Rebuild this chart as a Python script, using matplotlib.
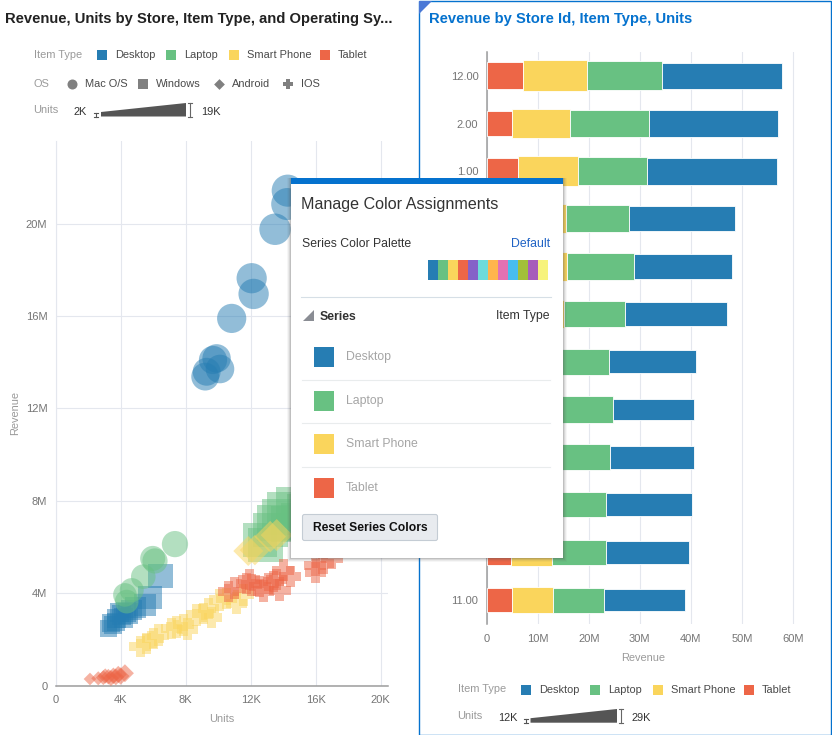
"""
Two linked dashboard charts (units vs revenue scatter, stacked revenue bars)
with the colour assignment popup sitting on top of them.
"""
import matplotlib
matplotlib.use("Agg")
import matplotlib.pyplot as plt
import numpy as np
from matplotlib.patches import FancyBboxPatch, Polygon, Rectangle
from matplotlib.path import Path

plt.rcParams["font.family"] = ["Liberation Sans", "DejaVu Sans"]

W, H = 832, 735

ITEM_TYPES = ["Desktop", "Laptop", "Smart Phone", "Tablet"]
ITEM_COLORS = ["#267db3", "#68c182", "#fad55c", "#ed6647"]
PALETTE = ["#267db3", "#68c182", "#fad55c", "#ed6647", "#8561c8", "#6ddbdb", "#ffb54d",
           "#e371b2", "#47bdef", "#a2bf39", "#a75dba", "#f7f37b"]

# scatter, units in K and revenue in M
desktop_mac_x = [14.28, 14.25, 13.5, 12.06, 12.18, 10.83, 9.9, 10.11, 9.68, 9.29, 9.2]
desktop_mac_y = [21.43, 20.85, 19.76, 17.64, 16.96, 15.9, 14.17, 13.71, 14.1, 13.59, 13.38]
desktop_win_x = [6.44, 5.8, 3.24, 3.4, 3.55, 3.75, 3.7, 4.06, 4.16, 4.3, 4.47, 4.67, 4.9, 5.5, 3.9]
desktop_win_y = [4.74, 3.81, 2.48, 2.7, 2.63, 2.92, 2.75, 3.06, 2.92, 3.2, 3.13, 3.28, 3.4, 3.5, 3.15]
laptop_mac_x = [7.34, 5.97, 6.11, 5.39, 4.68, 4.26, 4.37]
laptop_mac_y = [6.13, 5.51, 5.4, 4.72, 4.14, 3.93, 3.64]
laptop_win_x = [12.57, 12.9, 13.2, 13.5, 13.8, 14.1, 14.7, 14.4, 15.0, 15.4]
laptop_win_y = [6.3, 6.1, 6.74, 7.04, 7.3, 7.6, 7.8, 7.0, 7.1, 7.5]
phone_android_x = [11.85, 12.26, 13.2, 13.6]
phone_android_y = [5.83, 5.87, 6.45, 6.52]
phone_ios_x = [5.19, 5.6, 6.0, 6.31, 7.14, 7.45, 7.85, 8.1, 8.68, 9.08, 9.39, 9.6, 10.11, 10.52, 11.14, 11.55]
phone_ios_y = [1.69, 1.83, 2.05, 2.19, 2.48, 2.55, 2.63, 2.45, 3.06, 3.13, 3.35, 2.95, 3.71, 3.78, 3.57, 3.93]
tablet_android_x = [2.11, 2.62, 2.93, 3.05, 3.24, 3.4, 3.55, 3.7, 3.85, 4.0, 4.26]
tablet_android_y = [0.29, 0.32, 0.35, 0.42, 0.39, 0.33, 0.43, 0.38, 0.49, 0.42, 0.54]
tablet_ios_x = [11.03, 10.62, 11.75, 11.9, 12.06, 12.57, 12.8, 13.08, 13.39, 13.8, 14.42, 15.96, 16.45, 13.6, 14.0, 16.0, 17.0]
tablet_ios_y = [4.22, 4.07, 4.43, 4.6, 4.36, 4.29, 4.1, 4.43, 4.5, 4.14, 4.72, 5.22, 5.31, 4.6, 5.0, 4.9, 5.5]

# stacked bars, top row first, revenue in M and units in K
store_ids = ["12.00", "2.00", "1.00", "8.00", "3.00", "7.00", "6.00", "10.00", "9.00", "5.00", "4.00", "11.00"]
tablet_rev = [7.2, 5.0, 6.1, 5.5, 5.5, 5.2, 5.0, 5.0, 5.0, 5.0, 4.7, 5.0]
phone_rev = [12.4, 11.4, 11.7, 10.0, 10.25, 10.0, 8.5, 8.5, 8.5, 8.2, 8.05, 7.9]
laptop_rev = [14.8, 15.5, 13.7, 12.3, 13.2, 11.9, 10.5, 11.2, 10.75, 10.1, 10.55, 10.0]
desktop_rev = [23.4, 25.2, 25.4, 20.8, 19.15, 20.0, 17.0, 15.95, 16.35, 16.9, 16.4, 15.9]
tablet_units = [21.4, 15.8, 19.6, 17.7, 17.7, 15.8, 13.9, 13.9, 13.9, 13.9, 15.8, 15.8]
phone_units = [29, 27.1, 27.1, 25.2, 27.1, 23.3, 21.4, 21.4, 21.4, 21.4, 19.6, 19.6]
laptop_units = [25.2, 23.3, 23.3, 21.4, 23.3, 19.6, 19.6, 19.6, 19.6, 17.7, 17.7, 17.7]
desktop_units = [19.6, 21.4, 21.4, 17.7, 15.8, 15.8, 13.9, 12, 13.9, 13.9, 13.9, 12]

GRID = "#e4e7ee"
AXIS = "#9c9c9c"
TICK = "#757575"
LABEL = "#9a9a9a"
LEGEND = "#4a4a4a"
BLUE = "#0572ce"

# matplotlib's "P" has thinner arms than the plus in the reference
a, b = 0.21, 0.5
FAT_PLUS = Path([(-a, -b), (a, -b), (a, -a), (b, -a), (b, a), (a, a), (a, b), (-a, b),
                 (-a, a), (-b, a), (-b, -a), (-a, -a), (-a, -b)], closed=True)


def px_axes(fig, left, top, right, bottom, **kw):
    return fig.add_axes([left / W, 1 - bottom / H, (right - left) / W, (bottom - top) / H], **kw)


def bubble(units, marker):
    # width in px for each shape
    units = np.asarray(units)
    if marker == "o":
        width = 20 + 0.85 * units
    elif marker == "s":
        width = 9.6 * np.sqrt(units)
    elif marker == "D":
        width = 8.7 * np.sqrt(units) / np.sqrt(2)
    else:
        width = np.full(units.shape, 21.5)
    return (width * 0.72) ** 2


def style_axes(ax):
    ax.set_axisbelow(True)
    ax.grid(True, color=GRID, linewidth=0.8)
    ax.tick_params(length=0, labelsize=8, labelcolor=TICK)
    for side in ["top", "right"]:
        ax.spines[side].set_visible(False)


def legend_items(ov, y, swatches):
    for x0, color, name in swatches:
        ov.add_patch(Rectangle((x0, y - 5), 10, 10, color=color, lw=0))
        ov.text(x0 + 18, y, name, fontsize=7.9, color=LEGEND, va="center")


def units_wedge(ov, label_x, low, lo_x, x0, x1, top, bottom, high):
    ov.text(label_x, bottom - 5, low, fontsize=7.9, color="#333333", va="center")
    ov.plot([lo_x, lo_x], [bottom - 4, bottom], color="#555555", lw=0.8)
    ov.plot([lo_x - 2, lo_x + 2], [bottom - 4, bottom - 4], color="#555555", lw=0.8)
    ov.plot([lo_x - 2, lo_x + 2], [bottom, bottom], color="#555555", lw=0.8)
    ov.add_patch(Polygon([(x0, bottom), (x0, bottom - 4.5), (x1, top), (x1, bottom)], color="#555555", lw=0))
    ov.plot([x1 + 4, x1 + 4], [top, bottom], color="#666666", lw=0.8)
    ov.plot([x1 + 2, x1 + 6], [top, top], color="#666666", lw=0.8)
    ov.plot([x1 + 2, x1 + 6], [bottom, bottom], color="#666666", lw=0.8)
    ov.text(x1 + 15, bottom - 5, high, fontsize=7.9, color="#333333", va="center")


def draw_scatter(fig):
    ax = px_axes(fig, 55.7, 141, 388, 685.7)
    style_axes(ax)
    series = [
        (desktop_mac_x, desktop_mac_y, "o", 0), (desktop_win_x, desktop_win_y, "s", 0),
        (laptop_win_x, laptop_win_y, "s", 1), (laptop_mac_x, laptop_mac_y, "o", 1),
        (phone_ios_x, phone_ios_y, FAT_PLUS, 2), (tablet_ios_x, tablet_ios_y, FAT_PLUS, 3),
        (phone_android_x, phone_android_y, "D", 2), (tablet_android_x, tablet_android_y, "D", 3),
    ]
    for xs, ys, marker, item in series:
        ax.scatter(xs, ys, s=bubble(xs, marker), marker=marker, color=ITEM_COLORS[item],
                   alpha=0.5, linewidths=0, clip_on=False, zorder=3)
    ax.set_xlim(0, 20.45)
    ax.set_ylim(0, 23.58)
    ax.set_xticks(range(0, 21, 4), ["0"] + [f"{v}K" for v in range(4, 21, 4)])
    ax.set_yticks(range(0, 21, 4), ["0"] + [f"{v}M" for v in range(4, 21, 4)])
    ax.tick_params(axis="x", pad=6.5)
    ax.tick_params(axis="y", pad=6)
    ax.spines["left"].set_color(GRID)
    ax.spines["bottom"].set_color(AXIS)
    ax.spines["bottom"].set_linewidth(1.1)
    ax.set_xlabel("Units", fontsize=7.9, color=LABEL, labelpad=7)
    ax.set_ylabel("Revenue", fontsize=7.9, color=LABEL, labelpad=4)


def draw_bars(fig):
    ax = px_axes(fig, 486.7, 52, 800, 624)
    style_axes(ax)
    ax.grid(False, axis="y")
    rows = np.arange(len(store_ids))
    left = np.zeros(len(store_ids))
    stack = [(tablet_rev, tablet_units, 3), (phone_rev, phone_units, 2),
             (laptop_rev, laptop_units, 1), (desktop_rev, desktop_units, 0)]
    for rev, units, item in stack:
        # 12K..29K maps onto a bar 22..31 px thick, one row is 47.67 px
        thick = (22 + (np.asarray(units) - 12) / 17 * 9) / 47.67
        ax.barh(rows, rev, left=left, height=thick, color=ITEM_COLORS[item],
                edgecolor="white", linewidth=0.6, zorder=3)
        left += np.asarray(rev)
    ax.set_xlim(0, 61.4)
    ax.set_ylim(len(store_ids) - 0.5, -0.5)
    ax.set_yticks(rows, store_ids)
    ax.set_xticks(range(0, 61, 10), ["0"] + [f"{v}M" for v in range(10, 61, 10)])
    ax.tick_params(axis="x", pad=7.5)
    ax.tick_params(axis="y", pad=6)
    ax.spines["left"].set_color(AXIS)
    ax.spines["left"].set_linewidth(1.1)
    ax.spines["bottom"].set_visible(False)
    ax.set_xlabel("Revenue", fontsize=7.9, color=LABEL, labelpad=6)


def draw_popup(ov):
    for i, alpha in enumerate([0.05, 0.08, 0.12, 0.18]):
        grow = 4 - i
        ov.add_patch(Rectangle((291 - grow, 178), 272 + 2 * grow, 379.5 + grow, color="#555555", alpha=alpha, lw=0))
    ov.add_patch(Rectangle((291, 178), 272, 379.5, color="white", lw=0))
    ov.add_patch(Rectangle((291, 178), 272, 6, color=BLUE, lw=0))
    ov.text(301, 204, "Manage Color Assignments", fontsize=11.6, color="#333333", va="center")
    ov.text(302, 243.5, "Series Color Palette", fontsize=8.8, color="#333333", va="center")
    ov.text(550, 243.5, "Default", fontsize=8.8, color="#1f62c4", va="center", ha="right")
    for i, color in enumerate(PALETTE):
        ov.add_patch(Rectangle((428 + i * 10, 260), 10, 20, color=color, lw=0))
    ov.plot([301, 551], [296.5, 296.5], color="#d6dfe6", lw=0.8)
    ov.add_patch(Polygon([(303, 321), (314, 321), (314, 310)], color="#8a8d94", lw=0))
    ov.text(320, 316.5, "Series", fontsize=8.8, fontweight="bold", color="#333333", va="center")
    ov.text(550, 315.5, "Item Type", fontsize=8.8, color="#333333", va="center", ha="right")
    for name, color, y in zip(ITEM_TYPES, ITEM_COLORS, [347, 391, 434, 478]):
        ov.add_patch(Rectangle((314, y), 20, 20, color=color, lw=0))
        ov.text(346, y + 10, name, fontsize=8.8, color="#a5a5a5", va="center")
    for y in [379.5, 422.5, 466.5]:
        ov.plot([302, 550], [y, y], color="#e9eced", lw=0.8)
    ov.add_patch(FancyBboxPatch((302.5, 514.5), 135, 26, boxstyle="round,pad=0,rounding_size=2",
                                facecolor="#e8ebef", edgecolor="#c4ccd4", lw=0.8))
    ov.text(370, 528, "Reset Series Colors", fontsize=8.7, fontweight="bold", color="#111111",
            va="center", ha="center")


def main():
    fig = plt.figure(figsize=(W / 100, H / 100), dpi=100, facecolor="white")

    draw_scatter(fig)
    draw_bars(fig)

    # everything that isn't a chart is laid out in pixel coords on top
    ov = fig.add_axes([0, 0, 1, 1], facecolor="none", zorder=10)
    ov.set_xlim(0, W)
    ov.set_ylim(H, 0)
    ov.axis("off")

    ov.add_patch(Rectangle((418.5, 0.5), 412.5, 734, fill=False, edgecolor=BLUE, lw=1.0))
    ov.add_patch(Polygon([(419, 1), (432, 1), (419, 14)], color="#4a78d6", lw=0))

    ov.text(5, 19, "Revenue, Units by Store, Item Type, and Operating Sy...", fontsize=10.6,
            fontweight="bold", color="#222222", va="center")
    ov.text(429, 19, "Revenue by Store Id, Item Type, Units", fontsize=10.6,
            fontweight="bold", color=BLUE, va="center")

    ov.text(34, 54.5, "Item Type", fontsize=7.9, color=LABEL, va="center")
    legend_items(ov, 55, [(97, ITEM_COLORS[0], "Desktop"), (166, ITEM_COLORS[1], "Laptop"),
                          (229, ITEM_COLORS[2], "Smart Phone"), (320, ITEM_COLORS[3], "Tablet")])
    ov.text(34, 83.5, "OS", fontsize=7.9, color=LABEL, va="center")
    for x0, marker, name in [(72, "o", "Mac O/S"), (143, "s", "Windows"), (219, "D", "Android"), (288, "P", "IOS")]:
        ov.scatter([x0], [84], marker=marker, s=52 if marker != "D" else 30, color="#808080", linewidths=0)
        ov.text(x0 + 13, 84, name, fontsize=7.9, color=LEGEND, va="center")
    ov.text(33, 110, "Units", fontsize=7.9, color=LABEL, va="center")
    units_wedge(ov, 74, "2K", 96, 101, 186, 103, 116.5, "19K")

    ov.text(458, 689, "Item Type", fontsize=7.9, color=LABEL, va="center")
    legend_items(ov, 690, [(521, ITEM_COLORS[0], "Desktop"), (590, ITEM_COLORS[1], "Laptop"),
                           (653, ITEM_COLORS[2], "Smart Phone"), (744, ITEM_COLORS[3], "Tablet")])
    ov.text(457, 716, "Units", fontsize=7.9, color=LABEL, va="center")
    units_wedge(ov, 498, "12K", 526, 530.5, 617, 709, 722.7, "29K")

    draw_popup(ov)

    fig.savefig("out.png", dpi=100)


if __name__ == "__main__":
    main()
